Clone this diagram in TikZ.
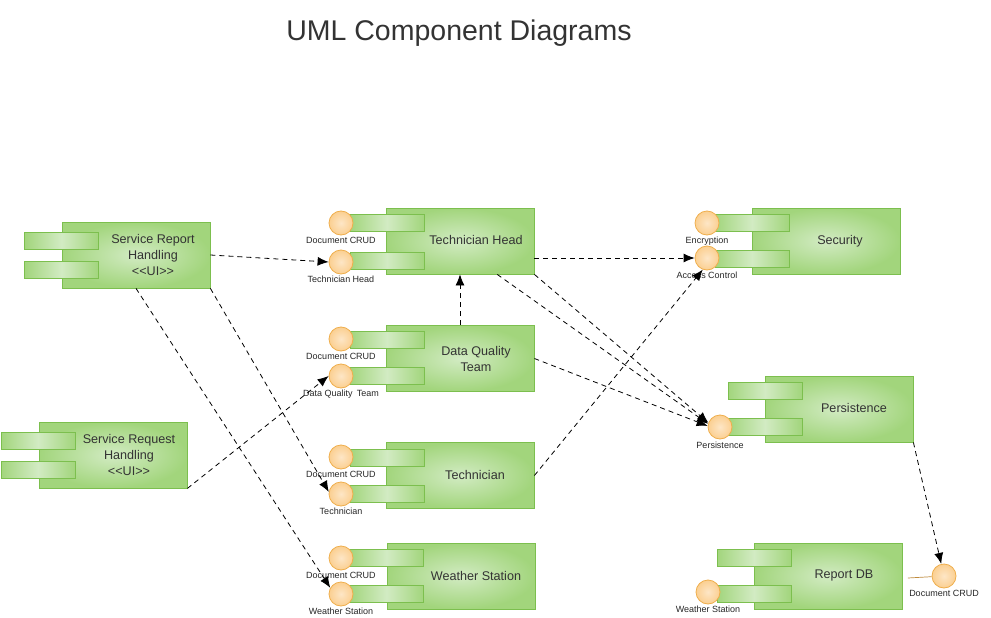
\documentclass[tikz,border=0pt]{standalone}
\usepackage{fontspec}
\setmainfont{Liberation Sans}
\usepackage{tikz}
\usetikzlibrary{positioning, arrows.meta, calc}

\definecolor{compedge}{HTML}{7CBF4E}
\definecolor{compout}{HTML}{A2D57C}
\definecolor{compin}{HTML}{D2EBC3}
\definecolor{ifedge}{HTML}{EFAE4C}
\definecolor{ifout}{HTML}{FBCF91}
\definecolor{ifin}{HTML}{FDE6C6}
\definecolor{titlegray}{HTML}{333333}

\begin{document}
\begin{tikzpicture}[x=1pt, y=-1pt,
      comp/.style={draw=compedge, line width=0.8pt, minimum width=148pt, minimum height=66pt, inner sep=0pt, shading=radial, inner color=compin, outer color=compout},
      tab/.style={draw=compedge, line width=0.8pt, minimum width=74pt, minimum height=17pt, inner sep=0pt, left color=compout, right color=compout, middle color=compin},
      iface/.style={circle, draw=ifedge, line width=0.8pt, minimum size=24pt, inner sep=0pt, shading=radial, inner color=ifin, outer color=ifout},
      iflabel/.style={font=\fontsize{9}{10}\selectfont, text=black!85, inner sep=0pt},
      comptext/.style={font=\fontsize{12.6}{16}\selectfont, text=black!80, align=center, inner sep=0pt},
      dep/.style={dash pattern=on 5pt off 4pt, line width=0.8pt, -{Latex[length=11pt, width=9pt]}}]
      \useasboundingbox (0,0) rectangle (991,618);
      \node[font=\fontsize{28.5}{32}\selectfont, text=titlegray] (title) at (459,33) {UML Component Diagrams};

      % left column
      \node[comp] (srh) at (136,255) {};
      \node[tab] (srht1) at (61.5,240.5) {};
      \node[tab] (srht2) at (61.5,269.5) {};
      \node[comptext] (srhtext) at (153,255) {Service Report\\Handling\\<{}<UI>{}>};

      \node[comp] (srq) at (113,455) {};
      \node[tab] (srqt1) at (38,440.5) {};
      \node[tab] (srqt2) at (38,469.5) {};
      \node[comptext] (srqtext) at (129,455) {Service Request\\Handling\\<{}<UI>{}>};

      % middle column
      \node[comp] (th) at (460,241) {};
      \node[tab] (tht1) at (387,223) {};
      \node[tab] (tht2) at (387,260.5) {};
      \node[iface, label={[iflabel, label distance=2pt]below:Document CRUD}] (thc1) at (341,223) {};
      \node[iface, label={[iflabel, label distance=1.5pt]below:Technician Head}] (thc2) at (341,262) {};
      \node[comptext] (thtext) at (476,240) {Technician Head};

      \node[comp] (dq) at (460,358.5) {};
      \node[tab] (dqt1) at (387,340) {};
      \node[tab] (dqt2) at (387,375.5) {};
      \node[iface, label={[iflabel, label distance=2pt]below:Document CRUD}] (dqc1) at (341,339) {};
      \node[iface, label={[iflabel, label distance=1.5pt]below:Data Quality\,\ Team}] (dqc2) at (341,376) {};
      \node[comptext] (dqtext) at (476,358.5) {Data Quality\\Team};

      \node[comp] (tc) at (460,475.5) {};
      \node[tab] (tct1) at (387,457.5) {};
      \node[tab] (tct2) at (387,493.5) {};
      \node[iface, label={[iflabel, label distance=2pt]below:Document CRUD}] (tcc1) at (341,457) {};
      \node[iface, label={[iflabel, label distance=1.5pt]below:Technician}] (tcc2) at (341,494) {};
      \node[comptext] (tctext) at (475,475) {Technician};

      \node[comp] (ws) at (461,576) {};
      \node[tab] (wst1) at (386.5,557.5) {};
      \node[tab] (wst2) at (386.5,593.5) {};
      \node[iface, label={[iflabel, label distance=2pt]below:Document CRUD}] (wsc1) at (341,558) {};
      \node[iface, label={[iflabel, label distance=1.5pt]below:Weather Station}] (wsc2) at (341,594) {};
      \node[comptext] (wstext) at (476,576) {Weather Station};

      % right column
      \node[comp] (sec) at (826,241) {};
      \node[tab] (sect1) at (752,222.5) {};
      \node[tab] (sect2) at (752,259) {};
      \node[iface, label={[iflabel, label distance=1.5pt]below:Encryption}] (secc1) at (707,223) {};
      \node[iface, label={[iflabel, label distance=1pt]below:Access Control}] (secc2) at (707,258) {};
      \node[comptext] (sectext) at (840,241) {Security};

      \node[comp] (per) at (839,409) {};
      \node[tab] (pert1) at (765,391) {};
      \node[tab] (pert2) at (765,426.5) {};
      \node[iface, label={[iflabel, label distance=2pt]below:Persistence}] (perc) at (720,427) {};
      \node[comptext] (pertext) at (854,408) {Persistence};

      \node[comp] (rdb) at (828.5,576) {};
      \node[tab] (rdbt1) at (754,557.5) {};
      \node[tab] (rdbt2) at (754,593.5) {};
      \node[iface, label={[iflabel, label distance=1.5pt]below:Weather Station}] (rdbc1) at (708,592) {};
      \node[iface, label={[iflabel, label distance=2pt]below:Document CRUD}] (rdbc2) at (944,576) {};
      \node[comptext] (rdbtext) at (844,575) {Report DB};
      \draw[ifedge!80!black, line width=0.7pt] ($(rdb.east)+(5,2)$) -- (rdbc2);

      % dependencies
      \draw[dep] (srh.east) -- (thc2.west);
      \draw[dep] (srh.south east) -- (tcc2.170);
      \draw[dep] (srh.south) -- (wsc2.150);
      \draw[dep] (srq.south east) -- (dqc2.west);
      \draw[dep] (dq.north) -- (th.south);
      \draw[dep] (th.east |- secc2) -- (secc2.west);
      \draw[dep] ($(th.south)!0.5!(th.south east)$) -- (perc.165);
      \draw[dep] (th.south east) -- (perc.160);
      \draw[dep] (dq.east) -- (perc.175);
      \draw[dep] (tc.east) -- (secc2.250);
      \draw[dep] (per.south east) -- (rdbc2);
    \end{tikzpicture}
\end{document}
